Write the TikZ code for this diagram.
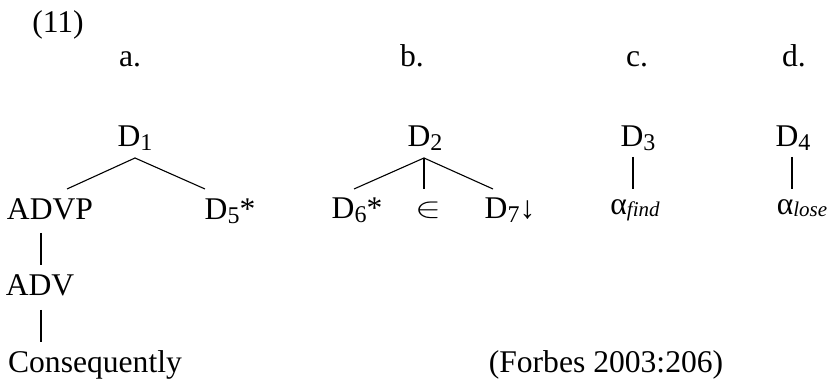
\documentclass[tikz,border=0pt]{standalone}
\usepackage{fontspec}
\setmainfont{Liberation Serif}
\usepackage{tikz}
\newcommand{\dsub}[1]{\raisebox{-1.7pt}{\fontsize{12pt}{13pt}\selectfont #1}}
\newcommand{\asub}[1]{\raisebox{-1pt}{\fontsize{10.5pt}{11pt}\selectfont\itshape #1}}

\begin{document}
\begin{tikzpicture}[
    x=0.5pt, y=0.5pt,
    lab/.style={anchor=base, inner sep=0pt, font=\fontsize{15.8pt}{19pt}\selectfont},
    br/.style={line width=0.55pt}]
  \useasboundingbox (0,0) rectangle (830,383);
  % example number and sub-labels
  \node[lab] (ex) at (58,350) {(11)};
  \node[lab] (la) at (130,316) {a.};
  \node[lab] (lb) at (412,316) {b.};
  \node[lab] (lc) at (637,316) {c.};
  \node[lab] (ld) at (794,316) {d.};
  % tree a
  \node[lab] (d1) at (135,236) {D\dsub{1}};
  \node[lab] (advp) at (50,163) {ADVP};
  \node[lab] (d5) at (230,163) {D\dsub{5}*};
  \node[lab] (adv) at (40,87) {ADV};
  \node[lab] (cons) at (95,10) {Consequently};
  \draw[br] ([yshift=-5.5pt]d1.base) -- ([xshift=8.5pt,yshift=15.5pt]advp.base);
  \draw[br] ([yshift=-5.5pt]d1.base) -- ([xshift=-12.5pt,yshift=15.5pt]d5.base);
  \draw[br] ([xshift=-4.5pt,yshift=-6.5pt]advp.base) -- ([xshift=.5pt,yshift=15.5pt]adv.base);
  \draw[br] ([xshift=.5pt,yshift=-7pt]adv.base) -- ([xshift=-27pt,yshift=15.5pt]cons.base);
  % tree b
  \node[lab] (d2) at (425,236) {D\dsub{2}};
  \node[lab] (d6) at (357,164) {D\dsub{6}*};
  \node[lab] (eps) at (428,165) {\scalebox{1.35}[1]{\fontsize{14pt}{15pt}\selectfont$\in$}};
  \node[lab] (d7) at (510,164) {D\dsub{7}↓};
  \draw[br] ([xshift=-.5pt,yshift=-5.5pt]d2.base) -- ([xshift=-1.5pt,yshift=15pt]d6.base);
  \draw[br] ([xshift=-.5pt,yshift=-5.5pt]d2.base) -- ([xshift=-2pt,yshift=14.5pt]eps.base);
  \draw[br] ([xshift=-.5pt,yshift=-5.5pt]d2.base) -- ([xshift=-8.5pt,yshift=15pt]d7.base);
  % trees c and d
  \node[lab] (d3) at (638,236) {D\dsub{3}};
  \node[lab] (afind) at (635,168) {α\asub{find}};
  \draw[br] ([xshift=-2.5pt,yshift=-5pt]d3.base) -- ([xshift=-1pt,yshift=13pt]afind.base);
  \node[lab] (d4) at (793,236) {D\dsub{4}};
  \node[lab] (alose) at (802,168) {α\asub{lose}};
  \draw[br] ([xshift=-.5pt,yshift=-5pt]d4.base) -- ([xshift=-5pt,yshift=13pt]alose.base);
  % source
  \node[lab] (src) at (606,10) {(Forbes 2003:206)};
\end{tikzpicture}
\end{document}
